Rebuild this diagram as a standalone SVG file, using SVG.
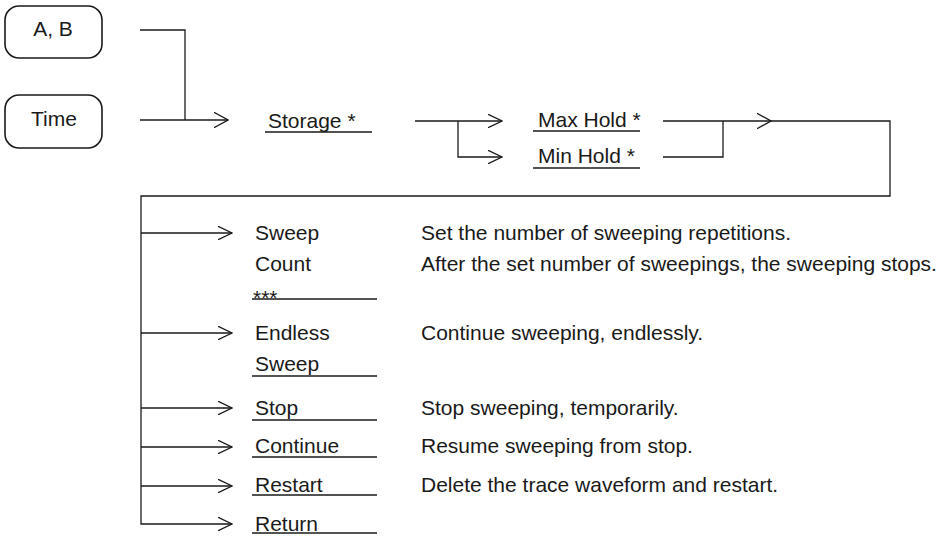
<svg xmlns="http://www.w3.org/2000/svg" width="943" height="537" viewBox="0 0 943 537">
<style>
text{font-family:"Liberation Sans",Arial,sans-serif;font-size:21px;fill:#1a1a1a}
.box{fill:none;stroke:#1a1a1a;stroke-width:1.6}
.ln{fill:none;stroke:#1a1a1a;stroke-width:1.3}
.ul{stroke:#1a1a1a;stroke-width:1.5}
</style>
<defs>
<marker id="chev" viewBox="0 0 15 16" refX="14.5" refY="8" markerWidth="15" markerHeight="16" markerUnits="userSpaceOnUse" orient="auto">
<path d="M0,0 L14.5,8 L0,16" fill="none" stroke="#1a1a1a" stroke-width="1.3"/>
</marker>
<marker id="chevs" viewBox="0 0 15 14" refX="14.5" refY="7" markerWidth="15" markerHeight="14" markerUnits="userSpaceOnUse" orient="auto">
<path d="M0,0 L14.5,7 L0,14" fill="none" stroke="#1a1a1a" stroke-width="1.3"/>
</marker>
</defs>
<g id="node-ab"><rect class="box" x="5" y="6" width="97" height="52" rx="14"/><text x="53" y="36" text-anchor="middle">A, B</text></g>
<g id="node-time"><rect class="box" x="5" y="95" width="97" height="53" rx="14"/><text x="54" y="126" text-anchor="middle">Time</text></g>
<g id="node-storage"><text x="268" y="128">Storage *</text><line class="ul" x1="265" y1="132" x2="372" y2="132"/></g>
<g id="node-maxhold"><text x="538" y="127">Max Hold *</text><line class="ul" x1="533" y1="131" x2="640" y2="131"/></g>
<g id="node-minhold"><text x="538" y="163">Min Hold *</text><line class="ul" x1="533" y1="168" x2="640" y2="168"/></g>
<g id="node-sweepcount"><text x="255" y="240">Sweep</text><text x="255" y="271">Count</text><text x="253" y="305">***</text><line class="ul" x1="252" y1="299" x2="377" y2="299"/>
<text x="421" y="240">Set the number of sweeping repetitions.</text><text x="421" y="271">After the set number of sweepings, the sweeping stops.</text></g>
<g id="node-endless"><text x="255" y="340">Endless</text><text x="255" y="371">Sweep</text><line class="ul" x1="252" y1="376" x2="377" y2="376"/>
<text x="421" y="340">Continue sweeping, endlessly.</text></g>
<g id="node-stop"><text x="255" y="415">Stop</text><line class="ul" x1="252" y1="420" x2="377" y2="420"/><text x="421" y="415">Stop sweeping, temporarily.</text></g>
<g id="node-continue"><text x="255" y="453">Continue</text><line class="ul" x1="252" y1="457" x2="377" y2="457"/><text x="421" y="453">Resume sweeping from stop.</text></g>
<g id="node-restart"><text x="255" y="492">Restart</text><line class="ul" x1="252" y1="495" x2="377" y2="495"/><text x="421" y="492">Delete the trace waveform and restart.</text></g>
<g id="node-return"><text x="255" y="531">Return</text><line class="ul" x1="252" y1="533" x2="377" y2="533"/></g>
<g id="connectors">
<path class="ln" d="M140,30 H185 V120"/>
<path class="ln" d="M140,120 H228" marker-end="url(#chev)"/>
<path class="ln" d="M415,121 H502" marker-end="url(#chevs)"/>
<path class="ln" d="M458,121 V157 H502" marker-end="url(#chevs)"/>
<path class="ln" d="M663,121 H771" marker-end="url(#chev)"/>
<path class="ln" d="M663,157 H723 V121"/>
<path class="ln" d="M771,121 H890 V196 H141 V524 H232" marker-end="url(#chevs)"/>
<path class="ln" d="M141,233 H232" marker-end="url(#chevs)"/>
<path class="ln" d="M141,333 H232" marker-end="url(#chevs)"/>
<path class="ln" d="M141,408 H232" marker-end="url(#chevs)"/>
<path class="ln" d="M141,447 H232" marker-end="url(#chevs)"/>
<path class="ln" d="M141,486 H232" marker-end="url(#chevs)"/>
</g>
</svg>
